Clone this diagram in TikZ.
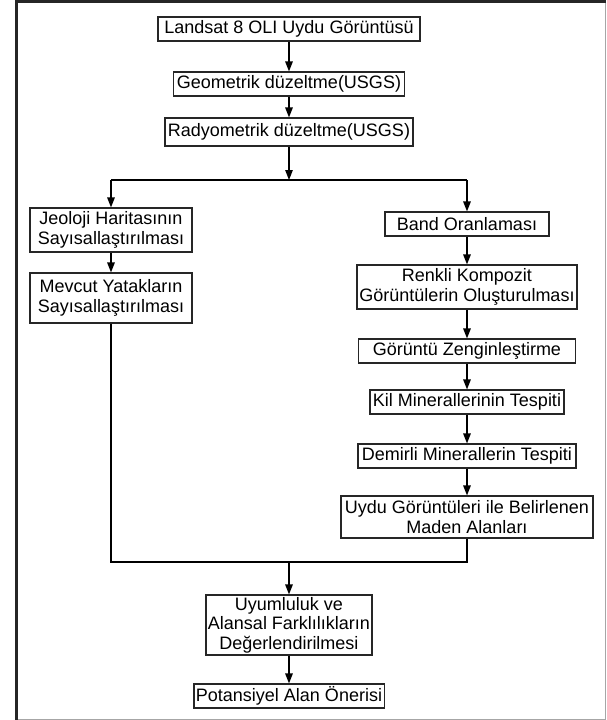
\documentclass[tikz,border=0pt]{standalone}
\usepackage{fontspec}
\setmainfont{Liberation Sans}
\usetikzlibrary{arrows.meta}

\begin{document}
\begin{tikzpicture}[x=1pt, y=-1pt]

  % ── Stiller ────────────────────────────────────────────
  \tikzset{
    kutu/.style = {draw=black!85, line width=1.1pt, align=center,
                   inner xsep=2pt, inner ysep=1pt, minimum height=24pt,
                   font=\fontsize{18}{19.5}\selectfont},
    ok/.style = {draw=black, line width=1.3pt, -{Triangle[length=10pt, width=7.5pt]}},
    hat/.style = {draw=black, line width=1.3pt}
  }

  \useasboundingbox (0,0) rectangle (606,720);

  % Cerceve (sol ve ust kenar kalin)
  \draw[gray!70, line width=1pt] (16,2) rectangle (605,719);
  \draw[black!85, line width=3pt] (16,719.5) -- (16,1.5) -- (605.5,1.5);

  % =========================================================
  % 1. ORTAK ADIMLAR
  % =========================================================
  \node[kutu, minimum width=262pt] (landsat) at (289,29) {Landsat 8 OLI Uydu Görüntüsü};
  \node[kutu, minimum width=231pt] (geometrik) at (289,84) {Geometrik düzeltme(USGS)};
  \node[kutu, minimum width=248pt, minimum height=28pt] (radyometrik) at (289,132) {Radyometrik düzeltme(USGS)};

  \draw[ok] (landsat) -- (geometrik);
  \draw[ok] (geometrik) -- (radyometrik);

  % =========================================================
  % 2. SOL KOL (jeoloji)
  % =========================================================
  \node[kutu, minimum width=162pt, minimum height=44pt] (jeoloji) at (111,230) {Jeoloji Haritasının\\Sayısallaştırılması};
  \node[kutu, minimum width=162pt, minimum height=50pt] (mevcut) at (111,298) {Mevcut Yatakların\\Sayısallaştırılması};

  % =========================================================
  % 3. SAG KOL (uydu goruntusu)
  % =========================================================
  \node[kutu, minimum width=164pt] (band) at (467,224) {Band Oranlaması};
  \node[kutu, minimum width=220pt, minimum height=44pt] (renkli) at (467,287) {Renkli Kompozit\\Görüntülerin Oluşturulması};
  \node[kutu, minimum width=217pt] (zengin) at (467,351) {Görüntü Zenginleştirme};
  \node[kutu, minimum width=194pt] (kil) at (467,402) {Kil Minerallerinin Tespiti};
  \node[kutu, minimum width=218pt] (demirli) at (467,456) {Demirli Minerallerin Tespiti};
  \node[kutu, minimum width=252pt, minimum height=42pt] (uydu) at (467,517) {Uydu Görüntüleri ile Belirlenen\\Maden Alanları};

  % Ayrim cizgisi
  \coordinate (ayrim) at (289,180);
  \coordinate (sol) at (jeoloji |- ayrim);
  \coordinate (sag) at (band |- ayrim);
  \draw[ok] (radyometrik) -- (ayrim);
  \draw[hat] (sol) -- (sag);
  \draw[ok] (sol) -- (jeoloji);
  \draw[ok] (sag) -- (band);

  \draw[ok] (jeoloji) -- (mevcut);
  \draw[ok] (band) -- (renkli);
  \draw[ok] (renkli) -- (zengin);
  \draw[ok] (zengin) -- (kil);
  \draw[ok] (kil) -- (demirli);
  \draw[ok] (demirli) -- (uydu);

  % =========================================================
  % 4. BIRLESTIRME VE SONUC
  % =========================================================
  \node[kutu, minimum width=163pt, minimum height=60pt] (uyum) at (289,625) {Uyumluluk ve\\Alansal Farklılıkların\\Değerlendirilmesi};
  \node[kutu, minimum width=190pt] (oneri) at (289,696) {Potansiyel Alan Önerisi};

  \coordinate (birlesme) at (289,562);
  \draw[hat] (mevcut) -- (mevcut |- birlesme) -- (uydu |- birlesme) -- (uydu);
  \draw[ok] (birlesme) -- (uyum);
  \draw[ok] (uyum) -- (oneri);

\end{tikzpicture}
\end{document}
